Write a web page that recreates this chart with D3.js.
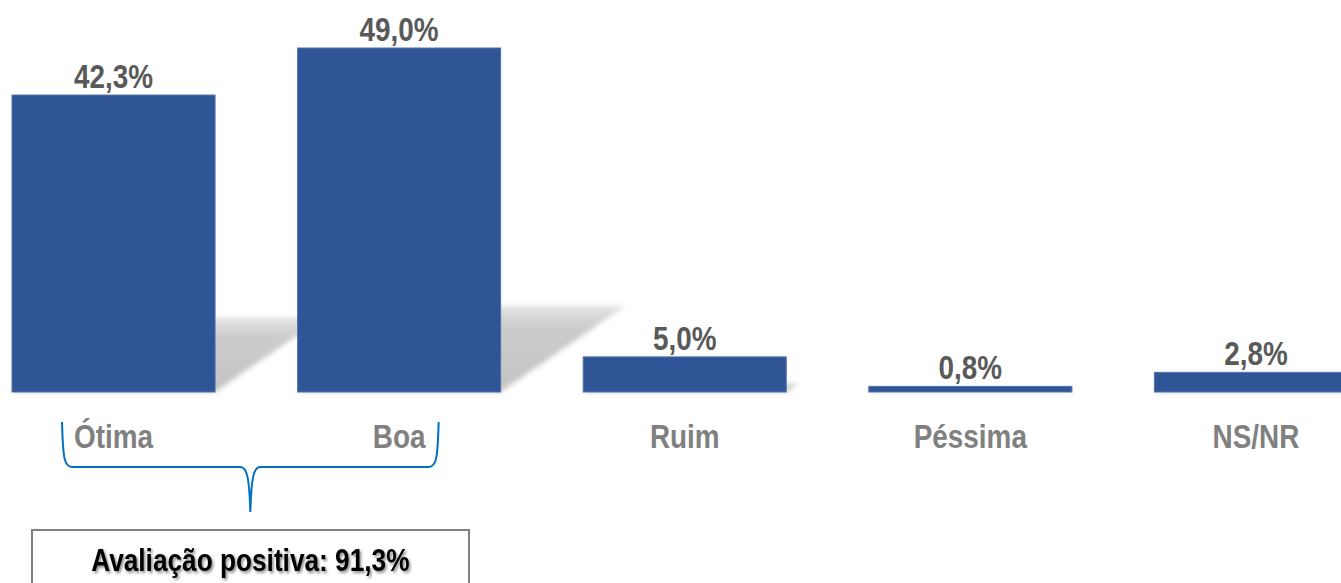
<!DOCTYPE html>
<html>
<head>
<meta charset="utf-8">
<script src="https://cdn.jsdelivr.net/npm/d3@7"></script>
<style>
  body { margin: 0; background: #fff; }
  text { font-family: "Liberation Sans", Arial, sans-serif; font-weight: bold; }
</style>
</head>
<body>
<div id="chart"></div>
<script>
// data
var categories = ["Ótima", "Boa", "Ruim", "Péssima", "NS/NR"];
var values = [42.3, 49.0, 5.0, 0.8, 2.8];
var valueLabels = ["42,3%", "49,0%", "5,0%", "0,8%", "2,8%"];
var groupedCats = ["Ótima", "Boa"];
var summaryLabel = "Avaliação positiva: 91,3%";

var width = 1341,
    height = 583;

// no narrow font installed, so squeeze the bold sans horizontally
var narrow = 0.82;
function at(px, py) { return "translate(" + px + "," + py + ") scale(" + narrow + ",1)"; }

var svg = d3.select("#chart").append("svg")
    .attr("width", width)
    .attr("height", height);

var defs = svg.append("defs");

// soft blur for the perspective shadows
defs.append("filter").attr("id", "blur")
    .attr("x", "-20%").attr("y", "-20%").attr("width", "140%").attr("height", "140%")
  .append("feGaussianBlur").attr("stdDeviation", 2.5);

var grad = defs.append("linearGradient").attr("id", "shade")
    .attr("x1", 0).attr("y1", 1).attr("x2", 0).attr("y2", 0);
grad.append("stop").attr("offset", "0%").attr("stop-color", "#c4c4c4");
grad.append("stop").attr("offset", "75%").attr("stop-color", "#cccccc");
grad.append("stop").attr("offset", "100%").attr("stop-color", "#e4e4e4");

var ts = defs.append("filter").attr("id", "textshadow")
    .attr("x", "-10%").attr("y", "-30%").attr("width", "120%").attr("height", "160%");
ts.append("feDropShadow").attr("dx", 2).attr("dy", 2).attr("stdDeviation", 1.5)
    .attr("flood-color", "#000").attr("flood-opacity", 0.45);

// scales
var step = 285.6, pad = 0.289;
var x0 = 12 - step * pad / 2;
var x = d3.scaleBand()
    .domain(categories)
    .range([x0, x0 + step * categories.length])
    .paddingInner(pad)
    .paddingOuter(pad / 2);

var y = d3.scaleLinear()
    .domain([0, 49])
    .range([392, 48]);

var data = categories.map(function(c, i) {
  return { cat: c, value: values[i], label: valueLabels[i] };
});

// shadows: skewed, flattened copy of each bar
var shRatio = 0.25, shSkew = 1.45;
svg.append("g").attr("filter", "url(#blur)")
  .selectAll("path")
  .data(data)
  .enter().append("path")
    .attr("d", function(d) {
      var b = y(0), h = (y(0) - y(d.value)) * shRatio, dx = h * shSkew;
      var l = x(d.cat), r = l + x.bandwidth();
      return "M" + l + "," + b + "L" + r + "," + b +
             "L" + (r + dx) + "," + (b - h) + "L" + (l + dx) + "," + (b - h) + "Z";
    })
    .attr("fill", "url(#shade)");

// value labels (drawn before bars)
svg.append("g").selectAll("text")
  .data(data)
  .enter().append("text")
    .attr("transform", function(d) { return at(x(d.cat) + x.bandwidth() / 2, y(d.value) - 7); })
    .attr("text-anchor", "middle")
    .style("font-size", "34px")
    .style("fill", "#595959")
    .text(function(d) { return d.label; });

// bars
svg.append("g").selectAll("rect")
  .data(data)
  .enter().append("rect")
    .attr("x", function(d) { return x(d.cat); })
    .attr("y", function(d) { return y(d.value); })
    .attr("width", x.bandwidth())
    .attr("height", function(d) { return y(0) - y(d.value); })
    .attr("fill", "#2f5597")
    .attr("stroke", "#4f72aa")
    .attr("stroke-width", 1);

// category labels
svg.append("g").selectAll("text")
  .data(categories)
  .enter().append("text")
    .attr("transform", function(d) { return at(x(d) + x.bandwidth() / 2, 448); })
    .attr("text-anchor", "middle")
    .style("font-size", "34px")
    .style("fill", "#808080")
    .text(function(d) { return d; });

// curly brace under the first two categories
var bl = x(groupedCats[0]) + 50,
    br = x(groupedCats[1]) + x.bandwidth() - 62,
    bm = (bl + br) / 2,
    bTop = 422, bMid = 467, bTip = 512;
svg.append("path")
    .attr("d", "M" + bl + "," + bTop +
      "C" + (bl + 1) + "," + (bMid - 10) + " " + (bl + 2) + "," + bMid + " " + (bl + 10) + "," + bMid +
      "L" + (bm - 10) + "," + bMid +
      "C" + (bm - 3) + "," + bMid + " " + (bm - 1) + "," + (bMid + 12) + " " + bm + "," + bTip +
      "C" + (bm + 1) + "," + (bMid + 12) + " " + (bm + 3) + "," + bMid + " " + (bm + 10) + "," + bMid +
      "L" + (br - 10) + "," + bMid +
      "C" + (br - 2) + "," + bMid + " " + (br - 1) + "," + (bMid - 10) + " " + br + "," + bTop)
    .attr("fill", "none")
    .attr("stroke", "#0070c0")
    .attr("stroke-width", 2);

// summary box
svg.append("rect")
    .attr("x", 32).attr("y", 530)
    .attr("width", 437).attr("height", 70)
    .attr("fill", "#fff")
    .attr("stroke", "#7f7f7f")
    .attr("stroke-width", 2);

svg.append("text")
    .attr("transform", at(bm, 571))
    .attr("text-anchor", "middle")
    .attr("filter", "url(#textshadow)")
    .style("font-size", "32px")
    .style("fill", "#000")
    .text(summaryLabel);
</script>
</body>
</html>
